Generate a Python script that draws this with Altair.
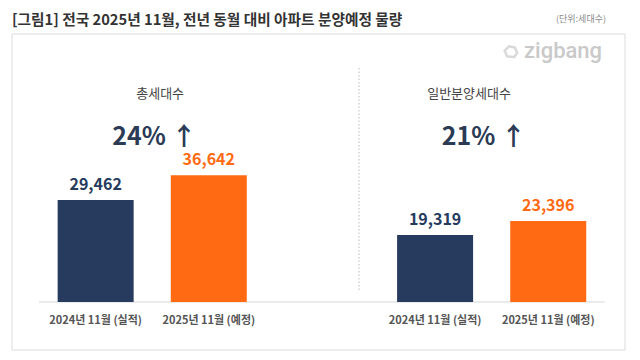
import altair as alt
import pandas as pd

# ---- data ----
categories = ["2024년 11월 (실적)", "2025년 11월 (예정)"]
total_units = [29462, 36642]
general_units = [19319, 23396]
panel_names = ["총세대수", "일반분양세대수"]
growth_labels = ["24% ↑", "21% ↑"]
value_labels_total = ["29,462", "36,642"]
value_labels_general = ["19,319", "23,396"]
title_text = "[그림1] 전국 2025년 11월, 전년 동월 대비 아파트 분양예정 물량"
unit_text = "(단위:세대수)"

NAVY = "#263B5E"
ORANGE = "#FF6A13"
ORANGE_TXT = "#EA9A62"
FONT = "Noto Sans CJK KR"

slots = [0, 1, 3, 4]
bars = pd.DataFrame({
    "slot": slots,
    "value": total_units + general_units,
    "label": value_labels_total + value_labels_general,
    "cat": categories + categories,
    "kind": ["prev", "next", "prev", "next"],
})
panels = pd.DataFrame({
    "name": panel_names,
    "growth": growth_labels,
    "name_x": [0.57, 3.30],
    "growth_x": [0.52, 3.43],
})
base_line = pd.DataFrame({"x0": [-0.5], "x1": [4.5], "y": [0]})

W, H = 624, 344
xs = alt.Scale(domain=[-0.7304, 4.696], nice=False, zero=False)
ys = alt.Scale(domain=[-14443, 84922], nice=False, zero=False)
color_scale = alt.Scale(domain=["prev", "next"], range=[NAVY, ORANGE])
txt_scale = alt.Scale(domain=["prev", "next"], range=["#2B3A55", ORANGE_TXT])

base = alt.Chart(bars)

frame = alt.Chart(pd.DataFrame({"a": [0]})).mark_rect(
    fill="white", stroke="#dcdcdc", strokeWidth=1
).encode(x=alt.value(4), x2=alt.value(617), y=alt.value(26), y2=alt.value(342))

title = alt.Chart(pd.DataFrame({"t": [title_text]})).mark_text(
    font=FONT, fontSize=14.7, fontWeight="bold", color="#333333", align="left", baseline="middle"
).encode(x=alt.value(4), y=alt.value(12.5), text="t:N")

unit = alt.Chart(pd.DataFrame({"t": [unit_text]})).mark_text(
    font=FONT, fontSize=9, color="#8a8a8a", align="right", baseline="middle"
).encode(x=alt.value(598), y=alt.value(11), text="t:N")

logo = alt.Chart(pd.DataFrame({"t": ["zigbang"]})).mark_text(
    font="Roboto", fontSize=22, fontWeight=500, color="#c9c9c9", align="left", baseline="middle"
).encode(x=alt.value(516), y=alt.value(43), text="t:N")

logo_icon = alt.Chart(pd.DataFrame({"a": [0]})).mark_point(
    shape="M-1,-0.2 L-0.3,-0.9 L0.6,-0.7 L1,0.1 L0.5,0.8 L-0.6,0.7 Z",
    size=160, filled=False, stroke="#c9c9c9", strokeWidth=2.5
).encode(x=alt.value(503), y=alt.value(44))

sep = alt.Chart(pd.DataFrame({"a": [0]})).mark_rule(
    color="#bdbdbd", strokeDash=[1.5, 2], strokeWidth=1
).encode(x=alt.value(351), y=alt.value(60), y2=alt.value(282))

baseline_rule = alt.Chart(base_line).mark_rule(color="#d6d6d6", strokeWidth=1).encode(
    x=alt.X("x0:Q", scale=xs, axis=None), x2="x1:Q", y=alt.Y("y:Q", scale=ys, axis=None)
)

bar_layer = base.mark_bar(size=76).encode(
    x=alt.X("slot:Q", scale=xs, axis=None),
    y=alt.Y("value:Q", scale=ys, axis=None),
    y2=alt.datum(0),
    color=alt.Color("kind:N", scale=color_scale, legend=None),
)

value_text = base.mark_text(
    font=FONT, fontSize=16, fontWeight="bold", baseline="middle", dy=-15
).encode(
    x=alt.X("slot:Q", scale=xs, axis=None),
    y=alt.Y("value:Q", scale=ys, axis=None),
    text="label:N",
    color=alt.Color("kind:N", scale=txt_scale, legend=None),
)

cat_text = base.mark_text(
    font=FONT, fontSize=11, fontWeight="bold", color="#555555", baseline="middle", dy=19
).encode(
    x=alt.X("slot:Q", scale=xs, axis=None),
    y=alt.datum(0, scale=ys),
    text="cat:N",
)

panel_name = alt.Chart(panels).mark_text(
    font=FONT, fontSize=13, color="#444444", baseline="middle"
).encode(x=alt.X("name_x:Q", scale=xs, axis=None), y=alt.value(86), text="name:N")

panel_growth = alt.Chart(panels).mark_text(
    font=FONT, fontSize=25, fontWeight="bold", color="#2B3A55", baseline="middle"
).encode(x=alt.X("growth_x:Q", scale=xs, axis=None), y=alt.value(129), text="growth:N")

chart = alt.layer(
    frame, title, unit, logo, logo_icon, sep, baseline_rule, bar_layer,
    value_text, cat_text, panel_name, panel_growth
).properties(
    width=W, height=H, padding=0, background="white"
).configure_view(stroke=None)

chart.save("out.html", embed_options={"renderer": "svg", "actions": False})
